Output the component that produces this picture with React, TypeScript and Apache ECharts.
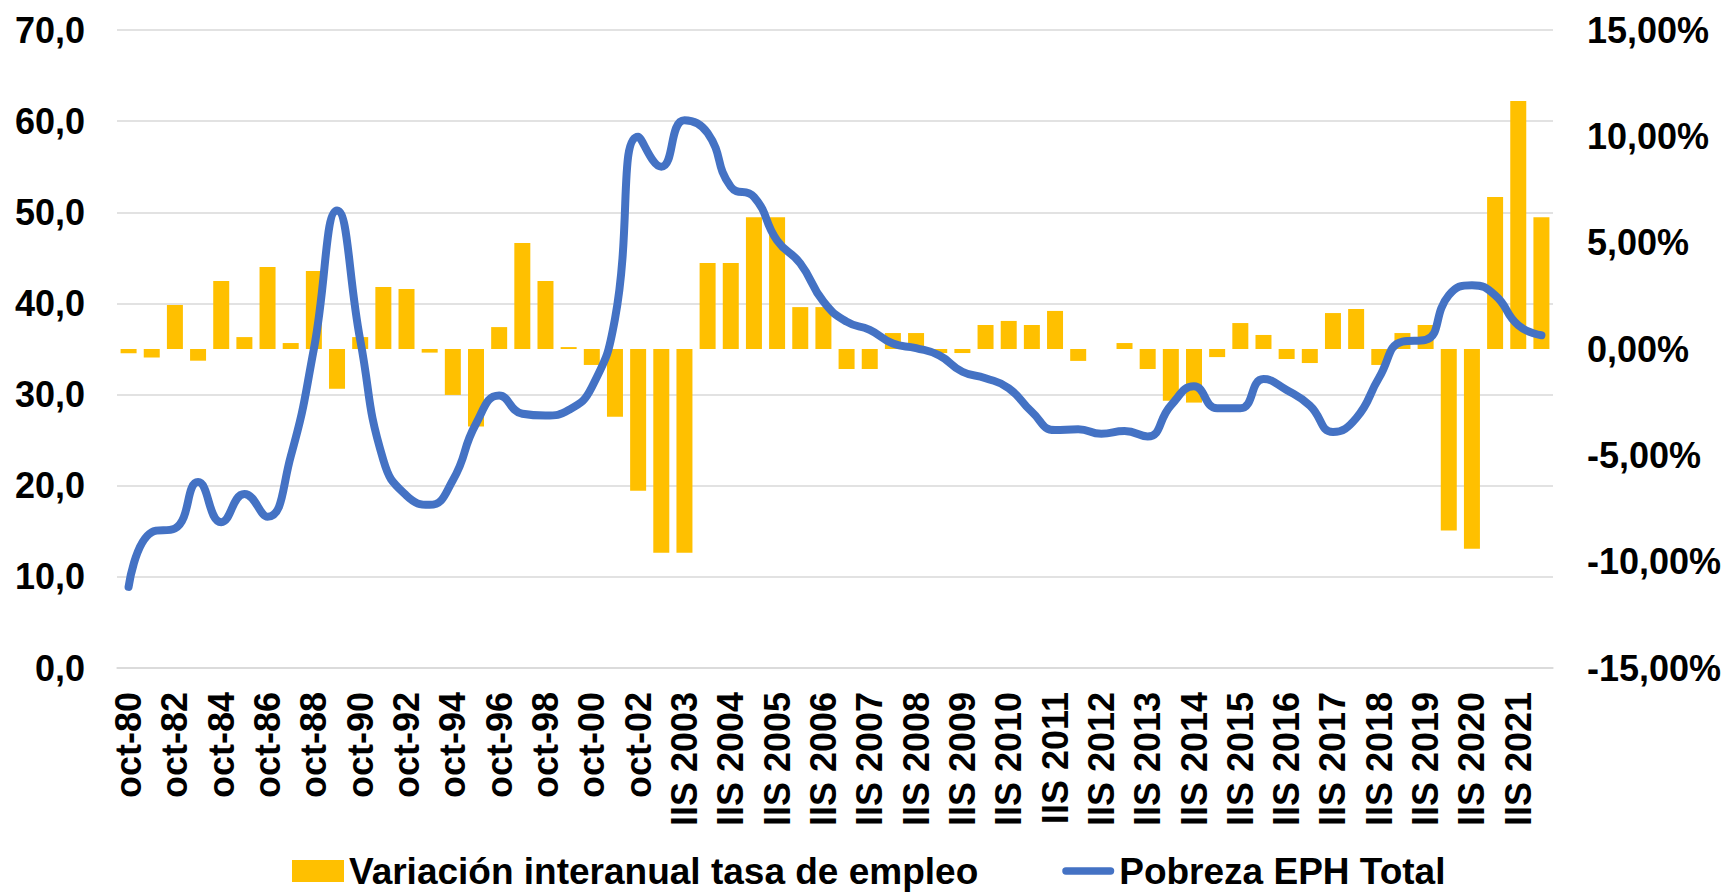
import React, { useEffect, useRef } from "react";
import * as echarts from "echarts";

const categories: string[] = [
  "oct-80", "oct-81", "oct-82", "oct-83", "oct-84", "oct-85", "oct-86", "oct-87", "oct-88", "oct-89",
  "oct-90", "oct-91", "oct-92", "oct-93", "oct-94", "oct-95", "oct-96", "oct-97", "oct-98", "oct-99",
  "oct-00", "oct-01", "oct-02", "may-03",
  "IIS 2003", "IS 2004", "IIS 2004", "IS 2005", "IIS 2005", "IS 2006", "IIS 2006", "IS 2007", "IIS 2007",
  "IS 2008", "IIS 2008", "IS 2009", "IIS 2009", "IS 2010", "IIS 2010", "IS 2011", "IIS 2011",
  "IS 2012", "IIS 2012", "IS 2013", "IIS 2013", "IS 2014", "IIS 2014", "IS 2015", "IIS 2015",
  "IS 2016", "IIS 2016", "IS 2017", "IIS 2017", "IS 2018", "IIS 2018", "IS 2019", "IIS 2019",
  "IS 2020", "IIS 2020", "IS 2021", "IIS 2021", "IS 2022",
];

// Variación interanual tasa de empleo (%), right axis
const employmentVariation: number[] = [
  -0.2, -0.4, 2.07, -0.55, 3.2, 0.56, 3.86, 0.28, 3.67, -1.87,
  0.56, 2.92, 2.82, -0.17, -2.16, -3.65, 1.03, 4.98, 3.2, 0.09,
  -0.75, -3.18, -6.66, -9.58,
  -9.58, 4.04, 4.04, 6.2, 6.2, 1.97, 1.97, -0.94, -0.94,
  0.75, 0.75, -0.19, -0.19, 1.13, 1.32, 1.13, 1.79,
  -0.56, 0, 0.28, -0.94, -2.43, -2.52, -0.38, 1.22,
  0.66, -0.47, -0.66, 1.69, 1.88, -0.75, 0.75, 1.13,
  -8.54, -9.39, 7.15, 11.66, 6.2,
];

// Pobreza EPH Total, left axis
const poverty: number[] = [
  8.9, 14.9, 15.3, 20.4, 16.0, 19.1, 16.6, 23.2, 35.0, 50.2,
  36.0, 22.8, 18.9, 17.9, 20.6, 26.8, 29.9, 27.9, 27.7, 28.3,
  30.8, 38.3, 58.3, 55.0,
  60.1, 58.7, 52.8, 51.7, 46.9, 44.4, 40.2, 38.0, 37.1,
  35.6, 35.1, 34.3, 32.5, 31.8, 30.7, 28.1, 26.1,
  26.2, 25.7, 26.0, 25.4, 28.8, 30.9, 28.5, 28.5,
  31.7, 30.5, 28.8, 25.9, 27.4, 31.9, 35.8, 36.0,
  40.9, 42.0, 40.9, 37.6, 36.5,
];

const leftTicks = { min: 0, max: 70, interval: 10 };
const rightTicks = { min: -15, max: 15, interval: 5 };

const FONT = "Arial, 'Liberation Sans', Helvetica, sans-serif";

export default function App() {
  const ref = useRef<HTMLDivElement>(null);

  useEffect(() => {
    if (!ref.current) return;
    const chart = echarts.init(ref.current, undefined, { renderer: "svg" });
    chart.setOption({
      animation: false,
      backgroundColor: "#ffffff",
      textStyle: { fontFamily: FONT },
      grid: { left: 117, right: 177, top: 30, bottom: 226, containLabel: false },
      legend: {
        top: 852,
        left: 292,
        padding: 0,
        itemWidth: 52,
        itemHeight: 22,
        itemGap: 84,
        symbolKeepAspect: true,
        textStyle: {
          fontSize: 37,
          lineHeight: 38,
          fontWeight: "bold",
          color: "#000",
          fontFamily: FONT,
        },
        data: [
          { name: "Variación interanual tasa de empleo", icon: "rect" },
          {
            name: "Pobreza EPH Total",
            icon: "path://M4,0 L52,0 A4,4 0 0 1 52,8 L4,8 A4,4 0 0 1 4,0 Z",
          },
        ],
      },
      xAxis: {
        type: "category",
        data: categories,
        boundaryGap: true,
        axisLine: { show: true, lineStyle: { color: "#D9D9D9", width: 1.5 } },
        axisTick: { show: false },
        axisLabel: {
          interval: 1,
          rotate: 90,
          margin: 24,
          fontSize: 36,
          fontWeight: "bold",
          color: "#000",
          fontFamily: FONT,
        },
      },
      yAxis: [
        {
          type: "value",
          position: "left",
          min: leftTicks.min,
          max: leftTicks.max,
          interval: leftTicks.interval,
          axisLine: { show: false },
          axisTick: { show: false },
          splitLine: { show: true, lineStyle: { color: "#D9D9D9", width: 1.5 } },
          axisLabel: {
            margin: 32,
            fontSize: 36,
            fontWeight: "bold",
            color: "#000",
            fontFamily: FONT,
            formatter: (v: number) => v.toFixed(1).replace(".", ","),
          },
        },
        {
          type: "value",
          position: "right",
          min: rightTicks.min,
          max: rightTicks.max,
          interval: rightTicks.interval,
          axisLine: { show: false },
          axisTick: { show: false },
          splitLine: { show: false },
          axisLabel: {
            margin: 34,
            fontSize: 36,
            fontWeight: "bold",
            color: "#000",
            fontFamily: FONT,
            formatter: (v: number) => v.toFixed(2).replace(".", ",") + "%",
          },
        },
      ],
      series: [
        {
          name: "Variación interanual tasa de empleo",
          type: "bar",
          yAxisIndex: 1,
          data: employmentVariation,
          barWidth: 16,
          itemStyle: { color: "#FFC000" },
        },
        {
          name: "Pobreza EPH Total",
          type: "line",
          yAxisIndex: 0,
          data: poverty,
          smooth: 0.5,
          symbol: "none",
          showSymbol: false,
          lineStyle: { color: "#4472C4", width: 8, cap: "round", join: "round" },
          itemStyle: { color: "#4472C4" },
          z: 5,
        },
      ],
    });
    return () => chart.dispose();
  }, []);

  return (
    <div
      ref={ref}
      style={{ position: "fixed", left: 0, top: 0, width: 1730, height: 894, background: "#fff" }}
    />
  );
}
